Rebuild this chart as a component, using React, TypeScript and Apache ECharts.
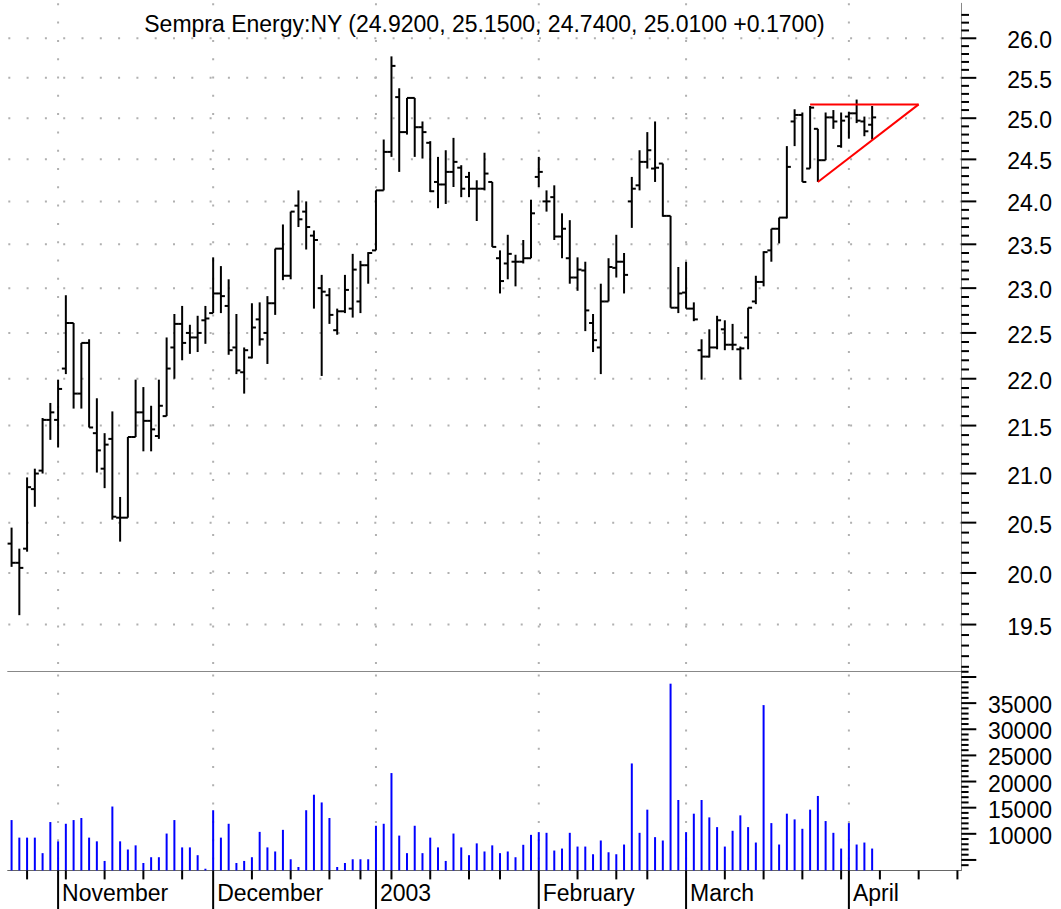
import React, { useEffect, useRef } from 'react';
import * as echarts from 'echarts';

const dates = [
  '2002-10-24','2002-10-25','2002-10-28','2002-10-29','2002-10-30','2002-10-31',
  '2002-11-01','2002-11-04','2002-11-05','2002-11-06','2002-11-07','2002-11-08','2002-11-11','2002-11-12','2002-11-13','2002-11-14',
  '2002-11-15','2002-11-18','2002-11-19','2002-11-20','2002-11-21','2002-11-22','2002-11-25','2002-11-26','2002-11-27','2002-11-29',
  '2002-12-02','2002-12-03','2002-12-04','2002-12-05','2002-12-06','2002-12-09','2002-12-10','2002-12-11','2002-12-12','2002-12-13',
  '2002-12-16','2002-12-17','2002-12-18','2002-12-19','2002-12-20','2002-12-23','2002-12-24','2002-12-26','2002-12-27','2002-12-30','2002-12-31',
  '2003-01-02','2003-01-03','2003-01-06','2003-01-07','2003-01-08','2003-01-09','2003-01-10','2003-01-13','2003-01-14','2003-01-15',
  '2003-01-16','2003-01-17','2003-01-21','2003-01-22','2003-01-23','2003-01-24','2003-01-27','2003-01-28','2003-01-29','2003-01-30','2003-01-31',
  '2003-02-03','2003-02-04','2003-02-05','2003-02-06','2003-02-07','2003-02-10','2003-02-11','2003-02-12','2003-02-13','2003-02-14',
  '2003-02-18','2003-02-19','2003-02-20','2003-02-21','2003-02-24','2003-02-25','2003-02-26','2003-02-27','2003-02-28',
  '2003-03-03','2003-03-04','2003-03-05','2003-03-06','2003-03-07','2003-03-10','2003-03-11','2003-03-12','2003-03-13','2003-03-14',
  '2003-03-17','2003-03-18','2003-03-19','2003-03-20','2003-03-21','2003-03-24','2003-03-25','2003-03-26','2003-03-27','2003-03-28','2003-03-31',
  '2003-04-01','2003-04-02','2003-04-03','2003-04-04',
  '2003-04-07','2003-04-08','2003-04-09','2003-04-10','2003-04-11','2003-04-14','2003-04-15','2003-04-16','2003-04-17','2003-04-18','2003-04-21',
];

const opens = [
  20.29,20.10,20.24,20.84,21.03,21.56,21.56,22.11,22.61,21.84,
  22.39,21.42,21.05,21.36,20.55,20.55,21.38,21.64,21.55,21.39,
  21.60,22.34,22.60,22.50,22.45,22.64,22.72,22.94,22.80,22.34,
  22.07,22.23,22.65,22.50,22.83,23.45,23.14,23.95,23.88,23.60,
  23.00,22.92,22.53,22.74,22.77,22.85,23.26,23.43,24.13,24.59,
  25.26,24.83,25.25,24.89,24.70,24.23,24.20,24.35,24.40,24.29,
  24.15,24.15,24.23,23.34,23.28,23.30,23.30,23.34,24.29,24.00,
  24.05,23.59,23.34,23.12,23.20,22.61,22.34,22.85,23.23,23.30,
  24.00,24.19,24.47,24.39,24.45,23.83,22.78,22.95,22.77,22.31,
  22.24,22.34,22.54,22.37,22.32,22.45,22.85,23.07,23.43,23.68,
  23.81,24.96,25.04,24.39,24.87,24.49,25.01,24.66,25.02,25.06,
  24.96,24.92,
];
const highs = [
  20.45,20.24,20.96,21.05,21.58,21.74,21.99,22.92,22.61,22.39,
  22.43,21.79,21.42,21.65,20.76,21.38,21.99,21.91,21.71,21.99,
  22.45,22.71,22.80,22.59,22.69,22.80,23.35,23.25,23.10,22.71,
  22.34,22.83,22.84,22.91,23.45,23.73,23.88,24.13,24.00,23.66,
  23.15,23.00,22.77,23.15,23.39,23.31,23.41,24.13,24.74,25.77,
  25.37,25.25,25.25,24.96,24.72,24.53,24.61,24.76,24.43,24.35,
  24.25,24.58,24.23,23.43,23.61,23.38,23.55,24.02,24.53,24.13,
  24.19,23.86,23.78,23.35,23.30,22.71,23.05,23.34,23.61,23.40,
  24.29,24.61,24.83,24.96,24.45,23.83,23.24,23.30,22.84,22.43,
  22.54,22.69,22.64,22.60,22.35,22.78,23.14,23.42,23.68,23.81,
  24.66,25.11,25.07,25.15,24.87,25.07,25.10,25.07,25.08,25.23,
  25.02,25.15,
];
const lows = [
  20.06,19.59,20.21,20.66,21.00,21.35,21.27,22.05,21.68,21.68,
  21.48,21.01,20.85,20.53,20.31,20.55,21.38,21.23,21.23,21.36,
  21.60,22.00,22.20,22.27,22.29,22.38,22.72,22.72,22.26,22.05,
  21.84,22.22,22.36,22.16,22.70,23.09,23.10,23.70,23.44,22.77,
  22.03,22.60,22.48,22.72,22.67,22.72,23.05,23.43,24.13,24.53,
  24.35,24.80,24.53,24.51,24.11,23.92,23.97,24.17,24.05,24.05,
  23.77,24.13,23.47,22.94,23.10,23.02,23.28,23.34,24.17,23.88,
  23.55,23.34,23.05,22.97,22.52,22.29,22.05,22.85,23.12,22.94,
  23.69,24.13,24.39,24.23,23.82,22.78,22.72,22.77,22.63,21.99,
  22.23,22.32,22.31,22.31,21.99,22.32,22.82,23.02,23.30,23.51,
  23.80,24.66,24.23,24.39,24.23,24.49,24.87,24.64,24.75,24.94,
  24.78,24.74,
];
const closes = [
  20.10,20.05,20.86,21.00,21.56,21.64,21.89,22.61,21.84,22.39,
  21.48,21.24,21.30,20.56,20.55,21.38,21.64,21.55,21.46,21.71,
  22.11,22.60,22.39,22.45,22.50,22.66,22.94,22.91,22.31,22.09,
  22.31,22.56,22.43,22.83,23.45,23.14,23.88,23.79,23.70,23.55,
  22.96,22.70,22.74,22.98,23.21,23.26,23.40,24.13,24.59,25.65,
  24.83,25.25,24.89,24.83,24.12,24.20,24.35,24.47,24.15,24.15,
  24.15,24.33,23.47,23.08,23.39,23.30,23.34,23.86,24.35,24.00,
  23.59,23.68,23.12,23.21,22.75,22.42,22.85,23.24,23.30,23.15,
  24.15,24.47,24.61,24.40,23.83,22.78,22.94,22.77,22.65,22.24,
  22.34,22.64,22.37,22.37,22.33,22.78,23.07,23.41,23.68,23.81,
  24.41,25.04,24.23,25.13,24.49,25.01,24.96,24.97,25.06,24.97,
  24.84,25.01,
];
const volumes = [
  12630,9270,9270,9270,6300,12250,8560,11920,12630,13020,
  9270,8560,4810,15220,8560,7010,7790,4420,5520,5520,
  10050,12630,7400,7400,5910,3320,14510,9270,11920,4420,
  4810,5520,10370,7400,6620,10760,5130,3650,14510,17480,
  16000,13020,3650,4420,5130,5130,5130,11540,11920,21620,
  9660,6300,11540,6300,9270,7400,4810,10050,7400,5910,
  8170,6620,7790,6300,6620,5520,7900,9800,10320,10190,
  6800,7180,10190,7560,7560,6090,8720,6470,6090,7950,
  23460,10190,14620,9360,8720,38720,16470,10320,13850,16470,
  13140,11280,7560,10580,13530,11280,8330,34620,12050,7950,
  13850,12760,10960,14620,17240,12440,10190,7180,12050,7950,
  8330,7180,
];

// triangle pattern lines: [category index, price]
const triangleTop = [[103, 25.17], [117, 25.17]];
const triangleBottom = [[104, 24.23], [117, 25.17]];

const monthLabels = ['November', 'December', '2003', 'February', 'March', 'April'];
const priceLabelTicks = [19.5, 20.0, 20.5, 21.0, 21.5, 22.0, 22.5, 23.0, 23.5, 24.0, 24.5, 25.0, 25.5, 26.0];
const volumeLabelTicks = [10000, 15000, 20000, 25000, 30000, 35000];
const titleText = 'Sempra Energy:NY (24.9200, 25.1500, 24.7400, 25.0100 +0.1700)';

const FONT = '"Liberation Sans", Arial, Helvetica, sans-serif';
const GRID_LEFT = 7.7;
const GRID_W = 953.6;
const PRICE_TOP = 3.3;
const PRICE_H = 668.2;
const VOL_TOP = 671.5;
const VOL_H = 198.9;
const PRICE_MIN = 19.056;
const PRICE_MAX = 26.45;
const VOL_MIN = 3000;
const VOL_MAX = 41050;
const LABEL_RIGHT = 1052;
const DOT = { stroke: '#b0b0b0', lineWidth: 2, lineDash: [2, 16.3] };

function buildOption() {
  const monthStarts: number[] = [];
  const weekStarts: number[] = [];
  for (let i = 1; i < dates.length; i++) {
    const a = new Date(dates[i - 1] + 'T00:00:00Z');
    const b = new Date(dates[i] + 'T00:00:00Z');
    if (a.getUTCMonth() !== b.getUTCMonth()) monthStarts.push(i);
    else if (b.getUTCDay() <= a.getUTCDay() || (b.getTime() - a.getTime()) > 4 * 86400000) weekStarts.push(i);
  }
  const priceTicks: number[] = [];
  for (let k = 191; k <= 263; k++) priceTicks.push(k / 10);
  const volTicks: number[] = [];
  for (let v = 4000; v <= 41000; v += 1000) volTicks.push(v);

  const ohlc = opens.map((o, i) => [i, o, highs[i], lows[i], closes[i]]);

  const textStyle = (text: string, align: string) => ({
    text,
    fill: '#000',
    font: '23px ' + FONT,
    align,
    textAlign: align,
    verticalAlign: 'middle',
    textVerticalAlign: 'middle',
  });

  return {
    animation: false,
    grid: [
      { left: GRID_LEFT, top: PRICE_TOP, width: GRID_W, height: PRICE_H, outerBoundsMode: 'none', containLabel: false },
      { left: GRID_LEFT, top: VOL_TOP, width: GRID_W, height: VOL_H, outerBoundsMode: 'none', containLabel: false },
    ],
    xAxis: [
      {
        type: 'category', gridIndex: 0, data: dates, boundaryGap: true,
        axisLine: { show: true, onZero: false, lineStyle: { color: '#888', width: 1 } },
        axisTick: { show: false }, axisLabel: { show: false }, splitLine: { show: false },
      },
      {
        type: 'category', gridIndex: 1, data: dates, boundaryGap: true,
        axisLine: { show: true, onZero: false, lineStyle: { color: '#666', width: 1 } },
        axisTick: { show: false }, axisLabel: { show: false }, splitLine: { show: false },
      },
    ],
    yAxis: [
      {
        type: 'log', gridIndex: 0, min: PRICE_MIN, max: PRICE_MAX, position: 'right',
        axisLine: { show: true, onZero: false, lineStyle: { color: '#888', width: 1 } },
        axisTick: { show: false }, axisLabel: { show: false }, splitLine: { show: false },
      },
      {
        type: 'value', gridIndex: 1, min: VOL_MIN, max: VOL_MAX, position: 'right',
        axisLine: { show: true, onZero: false, lineStyle: { color: '#888', width: 1 } },
        axisTick: { show: false }, axisLabel: { show: false }, splitLine: { show: false },
      },
    ],
    graphic: [
      { type: 'text', x: 484.5, y: 23.5, style: textStyle(titleText, 'center'), z: 10 },
    ],
    series: [
      // price panel horizontal dotted grid lines
      {
        type: 'custom', xAxisIndex: 0, yAxisIndex: 0, z: 1, silent: true,
        data: priceLabelTicks.map((v) => [0, v]),
        encode: { x: 0, y: 1 },
        renderItem: (params: any, api: any) => {
          const y = api.coord([0, api.value(1)])[1];
          const cs = params.coordSys;
          return { type: 'line', shape: { x1: cs.x + 0.6, y1: y, x2: cs.x + cs.width, y2: y }, style: DOT };
        },
      },
      // month dotted lines, price panel
      {
        type: 'custom', xAxisIndex: 0, yAxisIndex: 0, z: 1, silent: true,
        data: monthStarts.map((i) => [i, 20]),
        encode: { x: 0, y: 1 },
        renderItem: (params: any, api: any) => {
          const x = api.coord([api.value(0), 20])[0];
          const cs = params.coordSys;
          return { type: 'line', shape: { x1: x, y1: cs.y, x2: x, y2: cs.y + cs.height }, style: DOT };
        },
      },
      // month dotted lines, volume panel
      {
        type: 'custom', xAxisIndex: 1, yAxisIndex: 1, z: 1, silent: true,
        data: monthStarts.map((i) => [i, 5000]),
        encode: { x: 0, y: 1 },
        renderItem: (params: any, api: any) => {
          const x = api.coord([api.value(0), 5000])[0];
          const cs = params.coordSys;
          return { type: 'line', shape: { x1: x, y1: cs.y + 3, x2: x, y2: cs.y + cs.height }, style: DOT };
        },
      },
      // price axis ticks + labels
      {
        type: 'custom', xAxisIndex: 0, yAxisIndex: 0, z: 5, silent: true,
        data: priceTicks.map((v) => [0, v]),
        encode: { x: 0, y: 1 },
        renderItem: (params: any, api: any) => {
          const v = api.value(1);
          const y = api.coord([0, v])[1];
          const cs = params.coordSys;
          const xr = cs.x + cs.width;
          const major = Math.round(v * 10) % 5 === 0;
          const children: any[] = [
            { type: 'line', shape: { x1: xr, y1: y, x2: xr + (major ? 15 : 7.7), y2: y }, style: { stroke: '#000', lineWidth: 2 } },
          ];
          if (major && priceLabelTicks.some((t) => Math.abs(t - v) < 1e-6)) {
            children.push({ type: 'text', x: LABEL_RIGHT, y: y + 2, style: textStyle(v.toFixed(1), 'right') });
          }
          return { type: 'group', children };
        },
      },
      // volume axis ticks + labels
      {
        type: 'custom', xAxisIndex: 1, yAxisIndex: 1, z: 5, silent: true,
        data: volTicks.map((v) => [0, v]),
        encode: { x: 0, y: 1 },
        renderItem: (params: any, api: any) => {
          const v = api.value(1);
          const y = api.coord([0, v])[1];
          const cs = params.coordSys;
          const xr = cs.x + cs.width;
          const major = v % 5000 === 0;
          const children: any[] = [
            { type: 'line', shape: { x1: xr, y1: y, x2: xr + (major ? 15 : 7.3), y2: y }, style: { stroke: '#000', lineWidth: 2 } },
          ];
          if (volumeLabelTicks.indexOf(v) >= 0) {
            children.push({ type: 'text', x: LABEL_RIGHT, y: y + 2, style: textStyle(String(v), 'right') });
          }
          return { type: 'group', children };
        },
      },
      // bottom axis: weekly ticks
      {
        type: 'custom', xAxisIndex: 1, yAxisIndex: 1, z: 5, silent: true,
        data: weekStarts.map((i) => [i, 5000]),
        encode: { x: 0, y: 1 },
        renderItem: (params: any, api: any) => {
          const x = api.coord([api.value(0), 5000])[0];
          const cs = params.coordSys;
          const yb = cs.y + cs.height;
          return { type: 'line', shape: { x1: x, y1: yb, x2: x, y2: yb + 9 }, style: { stroke: '#000', lineWidth: 2 } };
        },
      },
      // bottom axis: month ticks and labels
      {
        type: 'custom', xAxisIndex: 1, yAxisIndex: 1, z: 5, silent: true,
        data: monthStarts.map((i, k) => [i, 5000, k]),
        encode: { x: 0, y: 1 },
        renderItem: (params: any, api: any) => {
          const x = api.coord([api.value(0), 5000])[0];
          const k = api.value(2);
          const cs = params.coordSys;
          const yb = cs.y + cs.height;
          return {
            type: 'group',
            children: [
              { type: 'line', shape: { x1: x, y1: yb, x2: x, y2: yb + 40 }, style: { stroke: '#000', lineWidth: 2 } },
              { type: 'text', x: x + 4, y: 893, style: textStyle(monthLabels[k], 'left') },
            ],
          };
        },
      },
      // volume bars
      {
        type: 'bar', xAxisIndex: 1, yAxisIndex: 1, z: 3, silent: true,
        data: volumes, barWidth: 2,
        itemStyle: { color: '#0000ff' },
      },
      // OHLC bars
      {
        type: 'custom', xAxisIndex: 0, yAxisIndex: 0, z: 3, silent: true,
        data: ohlc,
        encode: { x: 0, y: [1, 2, 3, 4] },
        renderItem: (params: any, api: any) => {
          const i = api.value(0);
          const pO = api.coord([i, api.value(1)]);
          const pH = api.coord([i, api.value(2)]);
          const pL = api.coord([i, api.value(3)]);
          const pC = api.coord([i, api.value(4)]);
          const x = pO[0];
          const st = { stroke: '#000', lineWidth: 2 };
          return {
            type: 'group',
            children: [
              { type: 'line', shape: { x1: x, y1: pH[1], x2: x, y2: pL[1] }, style: st },
              { type: 'line', shape: { x1: x - 4, y1: pO[1], x2: x, y2: pO[1] }, style: st },
              { type: 'line', shape: { x1: x, y1: pC[1], x2: x + 4, y2: pC[1] }, style: st },
            ],
          };
        },
      },
      // triangle
      {
        type: 'line', xAxisIndex: 0, yAxisIndex: 0, z: 6, silent: true,
        data: triangleTop, symbol: 'none',
        lineStyle: { color: '#ff0000', width: 2 },
      },
      {
        type: 'line', xAxisIndex: 0, yAxisIndex: 0, z: 6, silent: true,
        data: triangleBottom, symbol: 'none',
        lineStyle: { color: '#ff0000', width: 2 },
      },
    ],
  };
}

export default function App() {
  const ref = useRef<HTMLDivElement>(null);
  useEffect(() => {
    if (!ref.current) return;
    const chart = echarts.init(ref.current, undefined, { renderer: 'svg' });
    chart.setOption(buildOption() as any);
    return () => chart.dispose();
  }, []);
  return (
    <div
      ref={ref}
      style={{ position: 'absolute', left: 0, top: 0, width: 1061, height: 909, background: '#fff' }}
    />
  );
}
